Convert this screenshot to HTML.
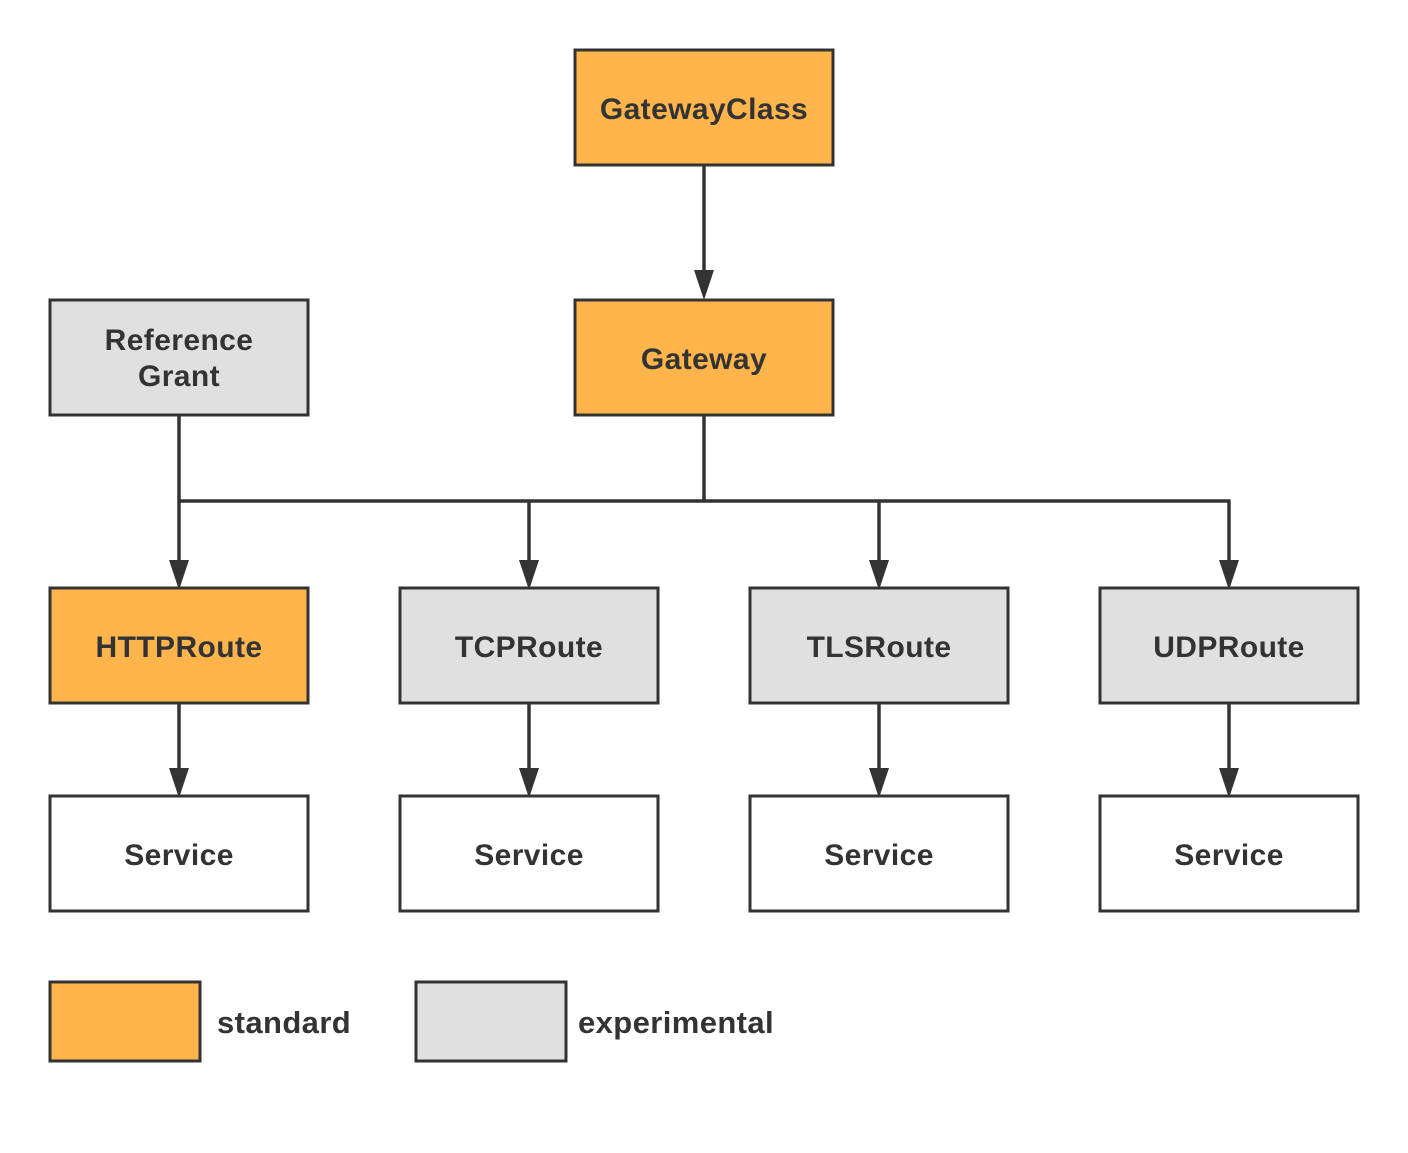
<!DOCTYPE html>
<html><head><meta charset="utf-8"><style>html,body{margin:0;padding:0;background:#fff}</style></head>
<body>
<svg width="1408" height="1148" viewBox="0 0 1408 1148" xmlns="http://www.w3.org/2000/svg" font-family="'Liberation Sans','DejaVu Sans',sans-serif" font-weight="bold" font-size="30" letter-spacing="0.4" fill="#333">
<g stroke="#333" stroke-width="3.5" fill="none">
<line x1="704" y1="166" x2="704" y2="271"/>
<line x1="704" y1="416" x2="704" y2="501"/>
<line x1="179" y1="416" x2="179" y2="562"/>
<line x1="177.5" y1="501" x2="1230.5" y2="501"/>
<line x1="529" y1="501" x2="529" y2="562"/>
<line x1="879" y1="501" x2="879" y2="562"/>
<line x1="1229" y1="501" x2="1229" y2="562"/>
<line x1="179" y1="704" x2="179" y2="770"/>
<line x1="529" y1="704" x2="529" y2="770"/>
<line x1="879" y1="704" x2="879" y2="770"/>
<line x1="1229" y1="704" x2="1229" y2="770"/>
</g>
<g fill="#333">
<path d="M694,270 L714,270 L704,300 Z"/>
<path d="M169,560 L189,560 L179,590 Z"/><path d="M519,560 L539,560 L529,590 Z"/><path d="M869,560 L889,560 L879,590 Z"/><path d="M1219,560 L1239,560 L1229,590 Z"/>
<path d="M169,768 L189,768 L179,798 Z"/><path d="M519,768 L539,768 L529,798 Z"/><path d="M869,768 L889,768 L879,798 Z"/><path d="M1219,768 L1239,768 L1229,798 Z"/>
</g>
<g stroke="#333" stroke-width="3">
<rect x="575" y="50" width="258" height="115" fill="#FFB54C"/>
<rect x="575" y="300" width="258" height="115" fill="#FFB54C"/>
<rect x="50" y="300" width="258" height="115" fill="#E0E0E0"/>
<rect x="50" y="588" width="258" height="115" fill="#FFB54C"/>
<rect x="400" y="588" width="258" height="115" fill="#E0E0E0"/>
<rect x="750" y="588" width="258" height="115" fill="#E0E0E0"/>
<rect x="1100" y="588" width="258" height="115" fill="#E0E0E0"/>
<rect x="50" y="796" width="258" height="115" fill="#fff"/>
<rect x="400" y="796" width="258" height="115" fill="#fff"/>
<rect x="750" y="796" width="258" height="115" fill="#fff"/>
<rect x="1100" y="796" width="258" height="115" fill="#fff"/>
<rect x="50" y="982" width="150" height="79" fill="#FFB54C"/>
<rect x="416" y="982" width="150" height="79" fill="#E0E0E0"/>
</g>
<g text-anchor="middle">
<text x="704" y="119">GatewayClass</text>
<text x="704" y="369">Gateway</text>
<text x="179" y="350">Reference</text>
<text x="179" y="386">Grant</text>
<text x="179" y="657">HTTPRoute</text>
<text x="529" y="657">TCPRoute</text>
<text x="879" y="657">TLSRoute</text>
<text x="1229" y="657">UDPRoute</text>
<text x="179" y="865">Service</text>
<text x="529" y="865">Service</text>
<text x="879" y="865">Service</text>
<text x="1229" y="865">Service</text>
</g>
<text x="217" y="1033" font-size="31">standard</text>
<text x="578" y="1033" font-size="31">experimental</text>
</svg>
</body></html>
